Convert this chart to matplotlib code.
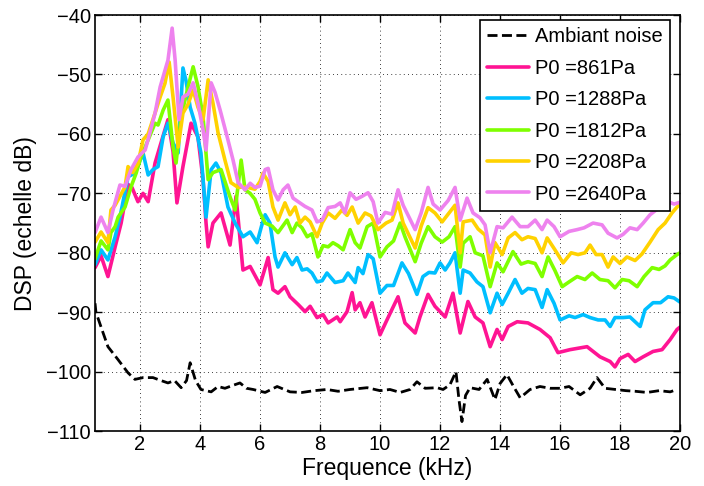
import matplotlib
matplotlib.use('Agg')
import matplotlib.pyplot as plt

plt.rcParams['font.family'] = ['Liberation Sans', 'DejaVu Sans']
plt.rcParams['axes.unicode_minus'] = True

# bruit ambiant
x_n = [0.5, 0.53, 0.77, 0.93, 1.27, 1.6, 1.83, 2.1, 2.43, 2.7, 2.93, 3.15, 3.37, 3.55, 3.67,
       3.85, 4.03, 4.37, 4.6, 4.83, 5.1, 5.33, 5.55, 5.77, 6.17, 6.57, 7.0, 7.4, 7.8, 8.23,
       8.6, 9.0, 9.57, 10.0, 10.33, 10.67, 11.0, 11.23, 11.5, 11.9, 12.1, 12.33, 12.53, 12.63, 12.73,
       12.85, 13.0, 13.3, 13.57, 13.7, 13.83, 14.0, 14.23, 14.45, 14.67, 15.0, 15.33, 15.67, 16.0, 16.3,
       16.67, 17.0, 17.23, 17.5, 17.85, 18.2, 18.5, 18.9, 19.3, 19.67, 19.9]
y_n = [-88.5, -90, -93.5, -95.8, -98, -100.2, -101.3, -101, -101, -101.5, -101.9, -101.5, -102.7, -101.5, -98.5,
       -101.5, -103, -103.4, -102.5, -102.8, -102.3, -101.9, -102.8, -103, -103.5, -102.5, -103.4, -103.5, -103.2, -103,
       -103.3, -103, -102.7, -103.2, -103, -103.5, -103, -101.7, -102.8, -102.7, -103, -102.2, -100, -104.7, -108.4,
       -104, -102.7, -103, -101.3, -103, -104.7, -102, -100.5, -102.5, -104.4, -103, -102.5, -102.8, -102.8, -102.5,
       -103.9, -102.8, -101, -102.8, -103, -103.2, -103.3, -103.5, -103.2, -103.4, -103]

# P0 = 861 Pa
x_p = [0.5, 0.7, 0.93, 1.17, 1.37, 1.6, 1.73, 1.93, 2.1, 2.27, 2.5, 2.67, 2.93, 3.1, 3.23,
       3.43, 3.7, 3.93, 4.1, 4.2, 4.27, 4.43, 4.7, 5.0, 5.2, 5.43, 5.67, 6.0, 6.27, 6.43,
       6.6, 6.83, 7.0, 7.27, 7.5, 7.67, 7.9, 8.1, 8.27, 8.57, 8.67, 8.9, 9.07, 9.17, 9.33,
       9.5, 9.73, 9.9, 10.0, 10.23, 10.6, 10.83, 11.17, 11.33, 11.6, 11.83, 12.17, 12.43, 12.67, 12.93,
       13.17, 13.43, 13.67, 13.9, 14.07, 14.27, 14.57, 14.93, 15.33, 15.67, 15.93, 16.33, 16.9, 17.33, 17.67,
       17.83, 18.0, 18.27, 18.5, 18.77, 19.1, 19.4, 19.67, 19.9, 20.0]
y_p = [-82.5, -80.5, -84, -79, -75, -68.5, -69, -71.4, -70, -71.4, -64.9, -62, -57.6, -63, -71.6,
       -65.5, -58.2, -60.5, -67.7, -75, -79, -75, -73.3, -78.7, -70.5, -82.9, -82.3, -85.4, -80.8, -86.2,
       -86.8, -85.7, -87.4, -88.7, -89.9, -89, -90.9, -90.4, -91.8, -90.8, -91.6, -89.9, -86.7, -89.6, -88.4,
       -90.8, -88.4, -91.8, -93.8, -91.3, -87.4, -91.8, -93.5, -90.8, -87, -89, -90.8, -86.8, -93.5, -88.2,
       -90.8, -91.8, -95.8, -92.9, -94.6, -92.4, -91.6, -91.8, -92.9, -94.3, -96.8, -96.3, -95.8, -97.5, -98.3,
       -99.2, -97.8, -97.1, -98.3, -97.5, -96.6, -96.3, -94.6, -92.9, -92.5]

# P0 = 1288 Pa
x_b = [0.5, 0.7, 0.93, 1.17, 1.33, 1.6, 1.83, 2.1, 2.27, 2.43, 2.6, 2.77, 2.93, 3.1, 3.27,
       3.43, 3.53, 3.67, 3.83, 4.03, 4.2, 4.37, 4.53, 4.7, 4.93, 5.17, 5.43, 5.67, 5.9, 6.05,
       6.17, 6.33, 6.5, 6.6, 6.83, 7.07, 7.23, 7.4, 7.57, 7.73, 7.9, 8.07, 8.23, 8.5, 8.77,
       8.93, 9.17, 9.27, 9.43, 9.6, 9.77, 10.0, 10.23, 10.45, 10.73, 10.95, 11.23, 11.43, 11.63, 11.83,
       12.0, 12.17, 12.33, 12.5, 12.67, 12.77, 13.0, 13.23, 13.43, 13.67, 13.9, 14.07, 14.27, 14.5, 14.73,
       14.93, 15.17, 15.4, 15.57, 15.8, 16.0, 16.3, 16.5, 16.77, 17.0, 17.27, 17.5, 17.67, 17.83, 18.1,
       18.33, 18.67, 18.83, 19.1, 19.35, 19.6, 19.8, 20.0]
y_b = [-82, -79.5, -81.2, -77.3, -74, -67.2, -66.6, -63.2, -66.9, -66, -65.5, -60.5, -58.2, -61.5, -63.2,
       -48.9, -51, -55.5, -58.2, -63.2, -74, -66, -64.9, -66.5, -72.3, -75, -77.3, -76.5, -78.3, -75.5,
       -73.6, -75, -80.7, -82.4, -80, -82, -80.8, -82.9, -82.7, -83.4, -84.9, -84.7, -83.4, -85, -84.7,
       -83.4, -85, -82.5, -83.5, -80.3, -81, -86.8, -85.5, -85.5, -81.7, -83.5, -87, -84, -83.3, -83.4,
       -81.7, -82.9, -81.7, -80, -86.8, -82.9, -83.4, -84.9, -85.7, -90.1, -86.8, -88.7, -86.8, -84.5, -86.8,
       -86, -86.2, -89.2, -86.2, -88.5, -91.3, -90.6, -90.9, -90.4, -90.9, -91.3, -91.3, -92.4, -90.9, -90.9,
       -90.8, -92.4, -89.6, -88.4, -88.4, -87.4, -87.6, -88.3]

# P0 = 1812 Pa
x_g = [0.5, 0.7, 0.93, 1.03, 1.17, 1.27, 1.5, 1.7, 1.87, 2.03, 2.27, 2.5, 2.6, 2.77, 2.93,
       3.1, 3.2, 3.37, 3.6, 3.77, 3.93, 4.1, 4.27, 4.43, 4.7, 5.0, 5.17, 5.37, 5.5, 5.67,
       5.83, 6.0, 6.17, 6.4, 6.6, 6.9, 7.07, 7.23, 7.4, 7.57, 7.73, 7.93, 8.1, 8.27, 8.43,
       8.6, 8.77, 9.0, 9.17, 9.33, 9.57, 9.77, 10.0, 10.23, 10.45, 10.67, 10.83, 11.17, 11.37, 11.6,
       11.83, 12.07, 12.3, 12.5, 12.67, 12.77, 13.0, 13.17, 13.43, 13.67, 13.9, 14.1, 14.43, 14.7, 14.93,
       15.17, 15.4, 15.6, 15.83, 16.07, 16.3, 16.57, 16.83, 17.07, 17.33, 17.6, 17.83, 18.07, 18.3, 18.57,
       18.8, 19.07, 19.3, 19.5, 19.67, 19.9, 20.0]
y_g = [-81, -78, -79.5, -76.6, -75.6, -74, -72.3, -68.9, -66.6, -63.9, -61, -58.2, -58.5, -56, -54.3,
       -62.2, -64.9, -57.1, -52.1, -48.7, -52, -57.1, -67.7, -66.5, -66, -70.6, -72.8, -64.4, -69.4, -70,
       -71, -73.3, -75, -75.5, -76.6, -74.5, -76.6, -75, -75.8, -77.3, -76.8, -80.7, -78.8, -79, -78.3,
       -78.8, -79.5, -76.1, -78.3, -79.2, -75.6, -75, -80.7, -79, -78, -75, -77.3, -81.5, -78.4, -75.6,
       -77.3, -78.2, -77.3, -75.6, -82.4, -78.4, -77.3, -80, -80.5, -85.7, -81.7, -83.2, -79.8, -81.9, -81.5,
       -81.8, -84, -80.7, -83, -85.7, -84.9, -84, -84.5, -83.4, -84.5, -84.7, -85.9, -84.5, -84.7, -85.7,
       -84, -82.5, -82.8, -82.2, -81.2, -80.3, -80]

# P0 = 2208 Pa
x_y = [0.5, 0.7, 0.93, 1.03, 1.17, 1.33, 1.5, 1.6, 1.75, 1.93, 2.1, 2.27, 2.5, 2.67, 2.83,
       2.97, 3.1, 3.27, 3.43, 3.6, 3.77, 3.93, 4.1, 4.27, 4.43, 4.6, 4.83, 5.03, 5.27, 5.5,
       5.83, 6.0, 6.1, 6.27, 6.43, 6.6, 6.83, 7.0, 7.17, 7.33, 7.5, 7.67, 7.9, 8.07, 8.27,
       8.5, 8.73, 8.9, 9.07, 9.27, 9.5, 9.7, 9.93, 10.2, 10.4, 10.6, 10.77, 11.17, 11.37, 11.6,
       11.83, 12.07, 12.3, 12.5, 12.67, 12.77, 13.07, 13.27, 13.5, 13.67, 13.83, 14.07, 14.27, 14.5, 14.73,
       14.93, 15.17, 15.4, 15.57, 15.83, 16.1, 16.37, 16.6, 16.83, 17.0, 17.2, 17.4, 17.6, 17.77, 18.0,
       18.23, 18.5, 18.73, 19.0, 19.27, 19.5, 19.73, 19.9, 20.0]
y_y = [-78.2, -76.5, -78.3, -72.8, -72, -70.5, -68.9, -65.5, -66.5, -65, -61, -60, -56.5, -53.8, -51.5,
       -47.9, -53.8, -62.2, -56.5, -55, -52.6, -55.5, -57.6, -50.9, -54.8, -59.8, -64.4, -68.2, -69, -68.9,
       -69.3, -68, -66.6, -68, -72.3, -74.5, -71.6, -73.6, -72.3, -75, -74, -74.8, -77.3, -75, -73.3,
       -74.2, -72.8, -73.7, -72.3, -75, -73.3, -73.8, -76.1, -75, -74.5, -71.6, -75, -79.2, -75.5, -72.4,
       -73.3, -74.8, -73.3, -72, -80, -74.8, -74.5, -76, -77, -82.4, -78.3, -80.3, -77.5, -76.6, -77.8,
       -77.3, -77.6, -80, -77.5, -79.5, -81.7, -80, -80.3, -80, -78.7, -80.3, -80.3, -82.4, -80.7, -81.8,
       -80.7, -81.3, -80.2, -78.2, -76.1, -75, -73.3, -72.3, -71.8]

# P0 = 2640 Pa
x_v = [0.5, 0.7, 0.93, 1.1, 1.33, 1.5, 1.7, 1.93, 2.17, 2.33, 2.5, 2.67, 2.93, 3.07, 3.17,
       3.3, 3.43, 3.6, 3.77, 3.93, 4.1, 4.2, 4.37, 4.5, 4.67, 4.93, 5.1, 5.27, 5.5, 5.67,
       5.83, 6.0, 6.17, 6.27, 6.43, 6.6, 6.77, 6.93, 7.1, 7.27, 7.5, 7.73, 7.9, 8.07, 8.27,
       8.5, 8.67, 8.83, 9.0, 9.2, 9.4, 9.6, 9.77, 9.93, 10.17, 10.4, 10.6, 10.77, 11.17, 11.37,
       11.6, 11.77, 12.0, 12.27, 12.5, 12.67, 12.9, 13.1, 13.33, 13.5, 13.67, 13.9, 14.1, 14.4, 14.67,
       14.93, 15.17, 15.4, 15.57, 15.8, 16.0, 16.3, 16.57, 16.8, 17.1, 17.4, 17.6, 17.9, 18.1, 18.33,
       18.57, 18.77, 19.0, 19.2, 19.4, 19.6, 19.8, 20.0]
y_v = [-76.6, -74, -76.6, -72.8, -68.6, -68.8, -66, -63.9, -62.7, -59.8, -56.5, -52.1, -47.6, -42.2, -47.6,
       -57.6, -53.8, -53.3, -51.4, -54.8, -59.3, -62.7, -51.4, -53, -56, -61, -64.4, -68.2, -69.4, -68.3,
       -69, -68.8, -66, -65.8, -69.4, -71.1, -69.4, -68.6, -70.8, -71.4, -72.2, -72.8, -74.8, -74.5, -72.4,
       -72.2, -71.6, -73.3, -69.9, -71, -70.5, -69.9, -71.4, -75, -73.2, -73.5, -69.4, -72, -76.1, -73.3,
       -69, -71.8, -72.8, -71.2, -69, -74.5, -70.8, -73.3, -74.1, -75.3, -80, -75.6, -75.8, -74, -75.6,
       -75.6, -74.5, -76.1, -74.5, -75.6, -77.3, -76.4, -76.1, -75.8, -75, -75.3, -76.7, -77.5, -76.9, -75.8,
       -76.1, -75, -73.6, -72.8, -72.3, -71.4, -71.8, -71.5]

fig = plt.figure(figsize=(7.04, 4.86), dpi=100)
ax = fig.add_axes([0.135, 0.113, 0.831, 0.856])

kw = dict(lw=2.6, solid_joinstyle='round', solid_capstyle='round')
ax.plot(x_n, y_n, color='black', lw=2, dashes=(3.6, 1.6), label='Ambiant noise')
ax.plot(x_p, y_p, color='#ff1493', label='P0 =861Pa', **kw)
ax.plot(x_b, y_b, color='#00bfff', label='P0 =1288Pa', **kw)
ax.plot(x_g, y_g, color='#7fff00', label='P0 =1812Pa', **kw)
ax.plot(x_y, y_y, color='#ffd200', label='P0 =2208Pa', **kw)
ax.plot(x_v, y_v, color='#ee82ee', label='P0 =2640Pa', **kw)

ax.set_xlim(0.5, 20)
ax.set_ylim(-110, -40)
ax.set_xticks(range(2, 21, 2))
ax.set_yticks(range(-110, -39, 10))
ax.grid(True, color='black', linestyle=(0, (1, 4)), linewidth=0.6)
ax.tick_params(direction='in', top=True, right=True, labelsize=14.5, length=5, width=1, pad=3)
for s in ax.spines.values():
    s.set_linewidth(1.2)

ax.set_xlabel('Frequence (kHz)', fontsize=16.5, labelpad=2)
ax.set_ylabel('DSP (echelle dB)', fontsize=16.5, labelpad=6)

leg = ax.legend(loc='upper right', bbox_to_anchor=(0.983, 0.988), borderaxespad=0,
                fontsize=14.5, fancybox=False, framealpha=1, edgecolor='black',
                handlelength=2.1, handletextpad=0.3, labelspacing=0.62, borderpad=0.35)
leg.get_frame().set_linewidth(1.2)

plt.savefig('out.png', dpi=100)
